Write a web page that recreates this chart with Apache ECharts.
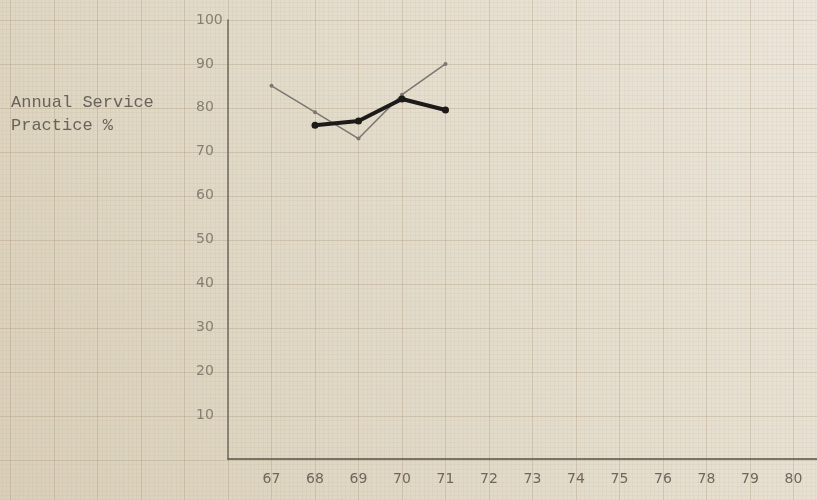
<!DOCTYPE html>
<html lang="en">
<head>
    <meta charset="UTF-8">
    <title>Annual Service Practice</title>
    <script src="https://cdn.jsdelivr.net/npm/echarts/dist/echarts.min.js"></script>
    <style>
        html, body { margin: 0; padding: 0; }
        #main { width: 817px; height: 500px; }
    </style>
</head>
<body>
    <div id="main"></div>
    <script>
        // years as written on the paper (77 was skipped by hand), blanks pad both ends
        var years = ['', '67', '68', '69', '70', '71', '72', '73', '74', '75', '76', '78', '79', '80', ' '];
        var thinLine = [null, 85, 79, 73, 83, 90];
        var thickLine = [null, null, 76, 77, 82, 79.5];

        var chart = echarts.init(document.getElementById('main'));

        var paperMajor = 'rgba(150, 128, 95, 0.26)';
        var paperMinor = 'rgba(150, 128, 95, 0.06)';

        var option = {
            backgroundColor: new echarts.graphic.LinearGradient(0, 1, 1, 0, [
                { offset: 0, color: '#d9cfb9' },
                { offset: 0.5, color: '#e3dbca' },
                { offset: 1, color: '#ece6da' }
            ]),
            animation: false,
            grid: [
                // the plotted chart
                { left: 228, right: -20, top: 20, bottom: 41, outerBoundsMode: 'none' },
                // graph paper ruling behind everything
                { left: -33, right: -20, top: -24, bottom: -4, outerBoundsMode: 'none' }
            ],
            graphic: [
                {
                    type: 'text', left: 11, top: 94,
                    style: { text: 'Annual Service', font: '17px "Liberation Mono"', fill: '#67625a' }
                },
                {
                    type: 'text', left: 11, top: 117,
                    style: { text: 'Practice %', font: '17px "Liberation Mono"', fill: '#67625a' }
                }
            ],
            xAxis: [
                {
                    type: 'category',
                    gridIndex: 0,
                    data: years,
                    boundaryGap: false,
                    axisLine: { lineStyle: { color: '#55514a', width: 1.5 } },
                    axisTick: { show: false },
                    axisLabel: {
                        interval: 0,
                        margin: 13,
                        color: '#6d675d',
                        fontSize: 14,
                        fontFamily: 'DejaVu Sans'
                    },
                    splitLine: { show: false }
                },
                {
                    type: 'value',
                    gridIndex: 1,
                    min: 0, max: 20, interval: 1,
                    axisLine: { show: false },
                    axisTick: { show: false },
                    axisLabel: { show: false },
                    splitLine: { show: true, lineStyle: { color: paperMajor, width: 1 } },
                    minorTick: { show: false, splitNumber: 10 },
                    minorSplitLine: { show: true, lineStyle: { color: paperMinor, width: 1 } }
                }
            ],
            yAxis: [
                {
                    type: 'value',
                    gridIndex: 0,
                    min: 0, max: 100, interval: 10,
                    axisLine: { show: true, lineStyle: { color: '#6f6a61', width: 1.5 } },
                    axisTick: { show: false },
                    axisLabel: {
                        showMinLabel: false,
                        align: 'left',
                        margin: 32,
                        color: '#857f73',
                        fontSize: 14,
                        fontFamily: 'DejaVu Sans'
                    },
                    splitLine: { show: false }
                },
                {
                    type: 'value',
                    gridIndex: 1,
                    min: 0, max: 12, interval: 1,
                    axisLine: { show: false },
                    axisTick: { show: false },
                    axisLabel: { show: false },
                    splitLine: { show: true, lineStyle: { color: paperMajor, width: 1 } },
                    minorTick: { show: false, splitNumber: 10 },
                    minorSplitLine: { show: true, lineStyle: { color: paperMinor, width: 1 } }
                }
            ],
            series: [
                {
                    name: 'thin',
                    type: 'line',
                    xAxisIndex: 0, yAxisIndex: 0,
                    data: thinLine,
                    symbol: 'circle',
                    symbolSize: 4,
                    lineStyle: { color: '#7b7670', width: 1.5 },
                    itemStyle: { color: '#7b7670' },
                    z: 3
                },
                {
                    name: 'thick',
                    type: 'line',
                    xAxisIndex: 0, yAxisIndex: 0,
                    data: thickLine,
                    symbol: 'circle',
                    symbolSize: 7,
                    lineStyle: { color: '#1c1b19', width: 4 },
                    itemStyle: { color: '#1c1b19' },
                    z: 4
                }
            ]
        };

        chart.setOption(option);
    </script>
</body>
</html>
